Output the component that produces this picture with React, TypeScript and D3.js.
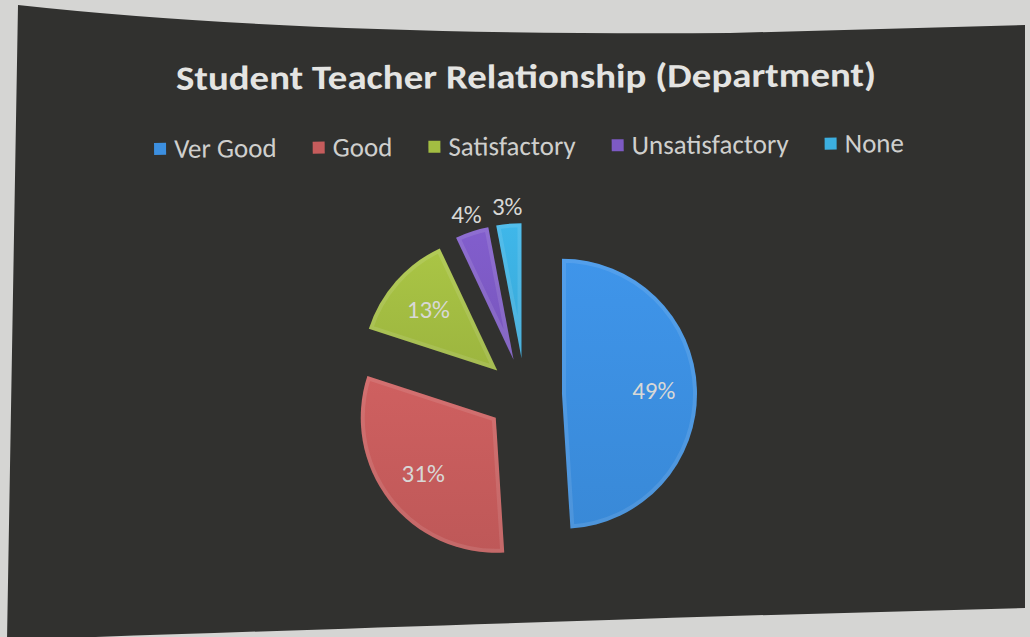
import { useEffect, useRef } from "react";
import * as d3 from "d3";

const categories = ["Ver Good", "Good", "Satisfactory", "Unsatisfactory", "None"];
const shares = [49, 31, 13, 4, 3];
const sliceColors = ["#3c8fe0", "#c65c5c", "#a3bd42", "#7d5ac4", "#3cafe0"];
const chartTitle = "Student Teacher Relationship (Department)";

const width = 1030;
const height = 637;
const font = "Carlito, Lato, 'Open Sans', sans-serif";

export default function App() {
  const ref = useRef<SVGSVGElement>(null);

  useEffect(() => {
    const svg = d3.select(ref.current!);
    svg.selectAll("*").remove();

    // the photographed page and the dark chart panel on it
    svg.append("rect").attr("width", width).attr("height", height).attr("fill", "#d5d5d3");
    svg
      .append("path")
      .attr(
        "d",
        "M18,5 Q300,36 730,33 L1025,25 L1025,608 L730,616 Q300,630 7,640 Z"
      )
      .attr("fill", "#31312f");

    const defs = svg.append("defs");

    // title
    svg
      .append("text")
      .attr("x", 526)
      .attr("y", 88)
      .attr("text-anchor", "middle")
      .attr("font-family", font)
      .attr("font-weight", 700)
      .attr("font-size", 34)
      .attr("fill", "#e4e4e2")
      .attr("textLength", 700)
      .attr("lengthAdjust", "spacingAndGlyphs")
      .attr("transform", "rotate(-0.3 526 80)")
      .text(chartTitle);

    // legend, flowed from measured text widths
    const legend = svg.append("g").attr("transform", "rotate(-0.45 530 146)");
    const items = legend
      .selectAll("g")
      .data(categories)
      .join("g");
    items
      .append("rect")
      .attr("y", -15)
      .attr("width", 12)
      .attr("height", 12)
      .attr("fill", (_, i) => sliceColors[i]);
    const labels = items
      .append("text")
      .attr("x", 20)
      .attr("font-family", font)
      .attr("font-size", 27)
      .attr("fill", "#cfcfcd")
      .text((d) => d);
    const widths = labels.nodes().map((n) => (n as SVGTextElement).getComputedTextLength());
    const gap = 36;
    const itemW = widths.map((w) => 20 + w);
    const total = d3.sum(itemW) + gap * (categories.length - 1);
    let x = 529 - total / 2;
    const xs = itemW.map((w) => {
      const at = x;
      x += w + gap;
      return at;
    });
    items.attr("transform", (_, i) => `translate(${xs[i]},155)`);

    // exploded pie
    const cx = 525;
    const cy = 395;
    const r = 135;
    const explode = 37;
    const pie = d3.pie<number>().sort(null).value((d) => d);
    const arcs = pie(shares);
    const arc = d3.arc<d3.PieArcDatum<number>>().innerRadius(0).outerRadius(r);
    const inner = d3.arc<d3.PieArcDatum<number>>().innerRadius(r * 0.68).outerRadius(r * 0.68);
    const outer = d3.arc<d3.PieArcDatum<number>>().innerRadius(r * 1.13).outerRadius(r * 1.13);

    arcs.forEach((a, i) => {
      const g = defs
        .append("linearGradient")
        .attr("id", `shade${i}`)
        .attr("x1", 0)
        .attr("y1", 0)
        .attr("x2", 0)
        .attr("y2", 1);
      const c = d3.color(sliceColors[i])!;
      g.append("stop").attr("offset", 0).attr("stop-color", c.brighter(0.12).formatHex());
      g.append("stop").attr("offset", 1).attr("stop-color", c.darker(0.12).formatHex());
      defs
        .append("clipPath")
        .attr("id", `clip${i}`)
        .append("path")
        .attr("d", arc(a)!);
    });

    const slices = svg
      .append("g")
      .selectAll("g")
      .data(arcs)
      .join("g")
      .attr("transform", (a) => {
        const mid = (a.startAngle + a.endAngle) / 2;
        return `translate(${cx + Math.sin(mid) * explode},${cy - Math.cos(mid) * explode})`;
      });

    slices
      .append("path")
      .attr("d", (a) => arc(a)!)
      .attr("fill", (_, i) => `url(#shade${i})`);
    // soft bevel highlight along the edges
    slices
      .append("path")
      .attr("d", (a) => arc(a)!)
      .attr("fill", "none")
      .attr("stroke", "#ffffff")
      .attr("stroke-opacity", 0.1)
      .attr("stroke-width", 8)
      .attr("clip-path", (_, i) => `url(#clip${i})`);

    slices
      .append("text")
      .attr("transform", (a) => {
        const [lx, ly] = a.data >= 10 ? inner.centroid(a) : outer.centroid(a);
        return `translate(${lx},${ly})`;
      })
      .attr("text-anchor", "middle")
      .attr("dominant-baseline", "central")
      .attr("font-family", font)
      .attr("font-size", 25)
      .attr("fill", "#d8d8d6")
      .text((a) => `${a.data}%`);
  }, []);

  return (
    <svg
      ref={ref}
      width={width}
      height={height}
      style={{ position: "absolute", left: 0, top: 0, display: "block" }}
    />
  );
}
